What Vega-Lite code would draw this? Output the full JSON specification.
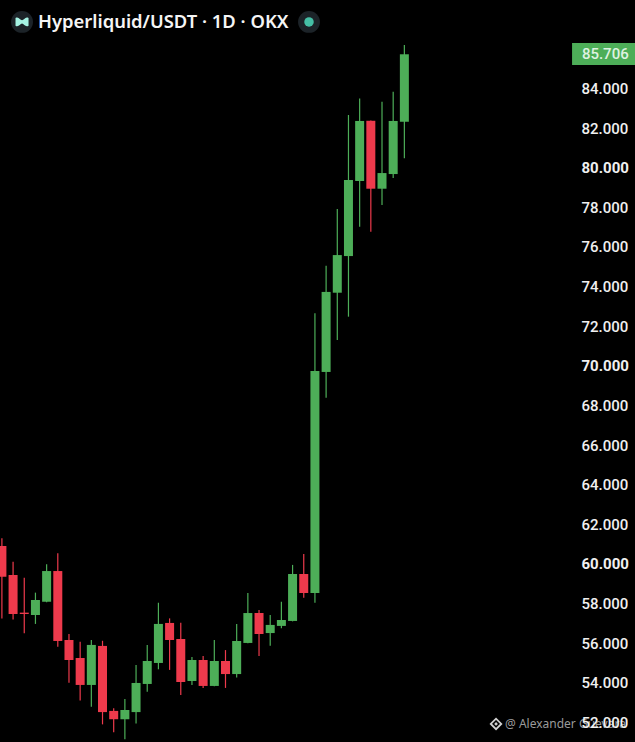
{
"$schema":"https://vega.github.io/schema/vega-lite/v6.json",
"width":635,"height":742,"padding":0,"autosize":{"type":"none"},"background":"#000000",
"config":{"view":{"stroke":null}},
"datasets":{"candles":[
{"i":0,"open":60.88,"high":61.27,"low":57.23,"close":59.33,"dir":"down"},
{"i":1,"open":59.42,"high":60.09,"low":57.18,"close":57.45,"dir":"down"},
{"i":2,"open":57.52,"high":59.28,"low":56.48,"close":57.45,"dir":"down"},
{"i":3,"open":57.40,"high":58.53,"low":56.95,"close":58.16,"dir":"up"},
{"i":4,"open":58.07,"high":59.96,"low":58.05,"close":59.62,"dir":"up"},
{"i":5,"open":59.62,"high":60.52,"low":55.80,"close":56.09,"dir":"down"},
{"i":6,"open":56.14,"high":56.44,"low":53.98,"close":55.13,"dir":"down"},
{"i":7,"open":55.23,"high":56.05,"low":53.08,"close":53.87,"dir":"down"},
{"i":8,"open":53.87,"high":56.14,"low":52.77,"close":55.89,"dir":"up"},
{"i":9,"open":55.84,"high":56.10,"low":51.88,"close":52.50,"dir":"down"},
{"i":10,"open":52.56,"high":52.69,"low":51.48,"close":52.14,"dir":"down"},
{"i":11,"open":52.14,"high":53.16,"low":51.13,"close":52.61,"dir":"up"},
{"i":12,"open":52.50,"high":54.88,"low":51.93,"close":53.97,"dir":"up"},
{"i":13,"open":53.92,"high":55.89,"low":53.53,"close":55.08,"dir":"up"},
{"i":14,"open":54.98,"high":58.02,"low":54.66,"close":56.95,"dir":"up"},
{"i":15,"open":57.00,"high":57.23,"low":54.63,"close":56.14,"dir":"down"},
{"i":16,"open":56.19,"high":57.01,"low":53.36,"close":54.02,"dir":"down"},
{"i":17,"open":54.07,"high":55.28,"low":53.87,"close":55.13,"dir":"up"},
{"i":18,"open":55.13,"high":55.33,"low":53.72,"close":53.82,"dir":"down"},
{"i":19,"open":53.82,"high":56.14,"low":53.80,"close":55.08,"dir":"up"},
{"i":20,"open":55.08,"high":55.63,"low":53.72,"close":54.42,"dir":"down"},
{"i":21,"open":54.42,"high":56.95,"low":54.24,"close":56.09,"dir":"up"},
{"i":22,"open":55.99,"high":58.51,"low":55.97,"close":57.50,"dir":"up"},
{"i":23,"open":57.50,"high":57.65,"low":55.33,"close":56.44,"dir":"down"},
{"i":24,"open":56.49,"high":57.40,"low":55.85,"close":56.90,"dir":"up"},
{"i":25,"open":56.85,"high":58.07,"low":56.73,"close":57.15,"dir":"up"},
{"i":26,"open":57.10,"high":59.93,"low":57.08,"close":59.47,"dir":"up"},
{"i":27,"open":59.47,"high":60.48,"low":58.27,"close":58.51,"dir":"down"},
{"i":28,"open":58.51,"high":72.63,"low":58.02,"close":69.72,"dir":"up"},
{"i":29,"open":69.67,"high":75.03,"low":68.37,"close":73.71,"dir":"up"},
{"i":30,"open":73.67,"high":77.90,"low":71.28,"close":75.57,"dir":"up"},
{"i":31,"open":75.52,"high":82.64,"low":72.46,"close":79.36,"dir":"up"},
{"i":32,"open":79.31,"high":83.48,"low":77.00,"close":82.34,"dir":"up"},
{"i":33,"open":82.35,"high":82.36,"low":76.75,"close":78.92,"dir":"down"},
{"i":34,"open":78.92,"high":83.31,"low":78.10,"close":79.71,"dir":"up"},
{"i":35,"open":79.66,"high":83.82,"low":79.46,"close":82.34,"dir":"up"},
{"i":36,"open":82.30,"high":86.17,"low":80.46,"close":85.706,"dir":"up"}
]},
"layer":[
{"data":{"name":"candles"},"mark":{"type":"rule","strokeWidth":1.2},
 "encoding":{
  "x":{"field":"i","type":"quantitative","scale":{"domain":[-0.17,56.63],"nice":false,"zero":false,"padding":0},"axis":null},
  "y":{"field":"low","type":"quantitative","scale":{"domain":[50.99,88.446],"nice":false,"zero":false},
   "axis":{"orient":"right","offset":-54,"title":null,"values":[52,54,56,58,60,62,64,66,68,70,72,74,76,78,80,82,84],"format":".3f","domain":false,"ticks":false,"grid":false,"labelPadding":0,"labelAlign":"left","labelOffset":0.4,"labelFont":"Roboto","labelFontSize":15,"labelColor":"#f0f0f0","labelFontWeight":{"condition":{"test":"datum.value%10==0","value":700},"value":500},"zindex":1}},
  "y2":{"field":"high"},
  "color":{"field":"dir","type":"nominal","scale":{"domain":["up","down"],"range":["#4dae58","#ee3a4c"]},"legend":null}
 }},
{"data":{"name":"candles"},"mark":{"type":"bar","size":9},
 "encoding":{
  "x":{"field":"i","type":"quantitative"},
  "y":{"field":"open","type":"quantitative"},
  "y2":{"field":"close"},
  "color":{"field":"dir","type":"nominal","legend":null}
 }},
{"data":{"values":[{"x0":51.0,"x1":56.63,"y0":85.17,"y1":86.28}]},"mark":{"type":"rect","color":"#4dae58"},
 "encoding":{"x":{"field":"x0","type":"quantitative"},"x2":{"field":"x1"},"y":{"field":"y0","type":"quantitative"},"y2":{"field":"y1"}}},
{"data":{"values":[{"x":51.88,"y":85.706,"t":"85.706"}]},"mark":{"type":"text","align":"left","baseline":"middle","font":"Roboto","fontSize":15,"fontWeight":500,"color":"#dff2e1"},
 "encoding":{"x":{"field":"x","type":"quantitative"},"y":{"field":"y","type":"quantitative"},"text":{"field":"t"}}},
{"data":{"values":[{"x":1.80,"y":87.34},{"x":27.47,"y":87.34}]},"mark":{"type":"point","filled":true,"size":480,"color":"#1c2328","opacity":1},
 "encoding":{"x":{"field":"x","type":"quantitative"},"y":{"field":"y","type":"quantitative"}}},
{"data":{"values":[{"x":27.47,"y":87.34}]},"mark":{"type":"point","filled":true,"size":90,"color":"#45bfa5","opacity":1},
 "encoding":{"x":{"field":"x","type":"quantitative"},"y":{"field":"y","type":"quantitative"}}},
{"data":{"values":[{"x":1.80,"y":87.34}]},"mark":{"type":"point","filled":true,"size":170,"color":"#a5f3e3","opacity":1,"shape":"M-1,-0.6 C-0.5,-0.9 -0.3,-0.25 0,-0.25 C0.3,-0.25 0.5,-0.9 1,-0.6 L1,0.6 C0.5,0.9 0.3,0.25 0,0.25 C-0.3,0.25 -0.5,0.9 -1,0.6 Z"},
 "encoding":{"x":{"field":"x","type":"quantitative"},"y":{"field":"y","type":"quantitative"}}},
{"data":{"values":[{"x":3.23,"y":87.34,"t":"Hyperliquid/USDT · 1D · OKX"}]},"mark":{"type":"text","align":"left","baseline":"middle","font":"Noto Sans","fontSize":18.4,"fontWeight":600,"color":"#f5f5f5"},
 "encoding":{"x":{"field":"x","type":"quantitative"},"y":{"field":"y","type":"quantitative"},"text":{"field":"t"}}},
{"data":{"values":[{"x":44.2,"y":51.9}]},"mark":{"type":"point","shape":"diamond","size":110,"filled":false,"strokeWidth":1.8,"color":"#d0d0d0","opacity":1},
 "encoding":{"x":{"field":"x","type":"quantitative"},"y":{"field":"y","type":"quantitative"}}},
{"data":{"values":[{"x":44.2,"y":51.9}]},"mark":{"type":"point","shape":"diamond","size":14,"filled":true,"color":"#d0d0d0","opacity":1},
 "encoding":{"x":{"field":"x","type":"quantitative"},"y":{"field":"y","type":"quantitative"}}},
{"data":{"values":[{"x":45.0,"y":51.9,"t":"@ Alexander Guevara"}]},"mark":{"type":"text","align":"left","baseline":"middle","font":"Noto Sans","fontSize":12,"color":"#9a9a9a"},
 "encoding":{"x":{"field":"x","type":"quantitative"},"y":{"field":"y","type":"quantitative"},"text":{"field":"t"}}}
]
}
